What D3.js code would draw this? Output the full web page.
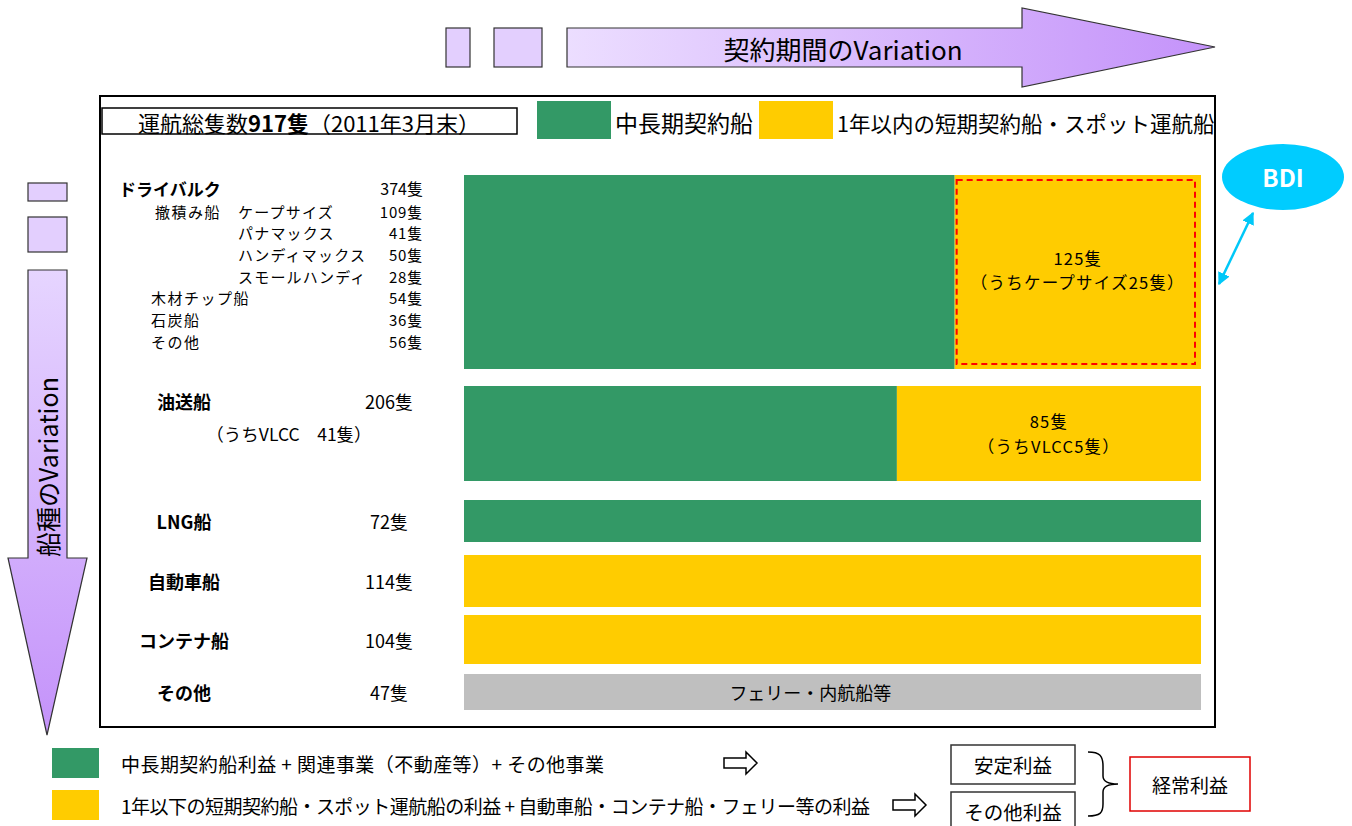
<!DOCTYPE html>
<html>
<head>
<meta charset="utf-8">
<script src="https://cdn.jsdelivr.net/npm/d3@7"></script>
<style>
  body { margin: 0; background: #fff; }
  svg text { font-family: "Noto Sans CJK JP", "Noto Sans", sans-serif; fill: #000; }
</style>
</head>
<body>
<svg width="1352" height="826"></svg>
<script>
// ---- data ----
var shipTypes   = ["ドライバルク", "油送船", "LNG船", "自動車船", "コンテナ船", "その他"];
var totalShips  = [374, 206, 72, 114, 104, 47];
var longTerm    = [249, 121, 72, 0, 0, 0];     // 中長期契約船
var shortTerm   = [125, 85, 0, 114, 104, 0];   // 1年以内の短期契約船・スポット運航船
var otherShips  = [0, 0, 0, 0, 0, 47];         // フェリー・内航船等
var shortNotes  = [["125隻", "（うちケープサイズ25隻）"], ["85隻", "（うちVLCC5隻）"], [], [], [], []];
var otherNote   = "フェリー・内航船等";

var dryBulkGroups = ["撤積み船", "", "", "", "木材チップ船", "石炭船", "その他"];
var dryBulkItems  = ["ケープサイズ", "パナマックス", "ハンディマックス", "スモールハンディ", "", "", ""];
var dryBulkCounts = [109, 41, 50, 28, 54, 36, 56];
var tankerNote    = "（うちVLCC　41隻）";

var fleetTitle   = ["運航総隻数", "917隻", "（2011年3月末）"];
var legendLabels = ["中長期契約船", "1年以内の短期契約船・スポット運航船"];
var profitLabels = ["中長期契約船利益 + 関連事業（不動産等）+ その他事業",
                    "1年以下の短期契約船・スポット運航船の利益 + 自動車船・コンテナ船・フェリー等の利益"];
var profitKinds  = ["安定利益", "その他利益"];
var profitTotal  = "経常利益";

// ---- layout ----
var svg = d3.select("svg");
var green = "#339966", yellow = "#FFCC00", grey = "#BFBFBF";
var rowTop    = [175, 386, 500, 555, 615, 674],
    rowHeight = [194, 95, 42, 52, 49, 36];

var x = d3.scaleLinear().domain([0, 1]).range([464, 1201]);

var defs = svg.append("defs");
var gh = defs.append("linearGradient").attr("id", "gradH");
gh.append("stop").attr("offset", "0%").attr("stop-color", "#ecdeff");
gh.append("stop").attr("offset", "100%").attr("stop-color", "#c492fa");
var gv = defs.append("linearGradient").attr("id", "gradV")
  .attr("x1", 0).attr("y1", 0).attr("x2", 0).attr("y2", 1);
gv.append("stop").attr("offset", "0%").attr("stop-color", "#e6d5ff");
gv.append("stop").attr("offset", "100%").attr("stop-color", "#c492fa");

// top arrow
svg.append("rect").attr("x", 446).attr("y", 28).attr("width", 24).attr("height", 39)
  .attr("fill", "#e3cffe").attr("stroke", "#333").attr("stroke-width", 1.2);
svg.append("rect").attr("x", 494).attr("y", 28).attr("width", 48).attr("height", 39)
  .attr("fill", "#e3cffe").attr("stroke", "#333").attr("stroke-width", 1.2);
svg.append("path")
  .attr("d", "M567,28 L1022,28 L1022,8 L1215,47 L1022,87 L1022,67 L567,67 Z")
  .attr("fill", "url(#gradH)").attr("stroke", "#333").attr("stroke-width", 1.2);
svg.append("text").attr("x", 843).attr("y", 48).attr("text-anchor", "middle")
  .attr("dominant-baseline", "central").style("font-size", "26px")
  .text("契約期間のVariation");

// left arrow
svg.append("rect").attr("x", 28).attr("y", 183).attr("width", 39).attr("height", 18)
  .attr("fill", "#e3cffe").attr("stroke", "#333").attr("stroke-width", 1.2);
svg.append("rect").attr("x", 28).attr("y", 217).attr("width", 39).attr("height", 35)
  .attr("fill", "#e3cffe").attr("stroke", "#333").attr("stroke-width", 1.2);
svg.append("path")
  .attr("d", "M28,270 L67,270 L67,558 L87,558 L47,735 L8,558 L28,558 Z")
  .attr("fill", "url(#gradV)").attr("stroke", "#333").attr("stroke-width", 1.2);
svg.append("text").attr("transform", "translate(47,467) rotate(-90)")
  .attr("text-anchor", "middle").attr("dominant-baseline", "central")
  .style("font-size", "25px").text("船種のVariation");

// main frame
svg.append("rect").attr("x", 100).attr("y", 96).attr("width", 1115).attr("height", 631)
  .attr("fill", "none").attr("stroke", "#000").attr("stroke-width", 2);

// title box
svg.append("rect").attr("x", 102).attr("y", 108).attr("width", 415).attr("height", 26)
  .attr("fill", "#fff").attr("stroke", "#000").attr("stroke-width", 1.5);
var tt = svg.append("text").attr("x", 309).attr("y", 122).attr("text-anchor", "middle")
  .attr("dominant-baseline", "central").style("font-size", "22px");
tt.append("tspan").text(fleetTitle[0]);
tt.append("tspan").style("font-weight", "bold").text(fleetTitle[1]);
tt.append("tspan").text(fleetTitle[2]);

// legend
var legX = [537, 759], legSize = ["23px", "21.5px"];
[green, yellow].forEach(function(c, i) {
  svg.append("rect").attr("x", legX[i]).attr("y", 101).attr("width", 74).attr("height", 38).attr("fill", c);
  svg.append("text").attr("x", legX[i] + 78).attr("y", 122).attr("dominant-baseline", "central")
    .style("font-size", legSize[i]).text(legendLabels[i]);
});

// bars
var table = shipTypes.map(function(s, i) {
  return { type: s, long: longTerm[i], short: shortTerm[i], other: otherShips[i], idx: i };
});
var stack = d3.stack().keys(["long", "short", "other"]).offset(d3.stackOffsetExpand);
var series = stack(table);
var colors = { long: green, short: yellow, other: grey };

var layers = svg.append("g").selectAll("g").data(series).join("g")
  .attr("fill", function(d) { return colors[d.key]; });
layers.selectAll("rect").data(function(d) { return d; }).join("rect")
  .attr("x", function(d) { return x(d[0]); })
  .attr("y", function(d) { return rowTop[d.data.idx]; })
  .attr("width", function(d) { return x(d[1]) - x(d[0]); })
  .attr("height", function(d) { return rowHeight[d.data.idx]; });

// notes inside short-term segments
var shortSeries = series[1];
shortSeries.forEach(function(d) {
  var i = d.data.idx, lines = shortNotes[i];
  if (!lines.length) return;
  var cx = (x(d[0]) + x(d[1])) / 2, cy = rowTop[i] + rowHeight[i] / 2;
  if (i === 0) {
    svg.append("rect").attr("x", x(d[0]) + 2).attr("y", rowTop[i] + 5)
      .attr("width", x(d[1]) - x(d[0]) - 8).attr("height", rowHeight[i] - 10)
      .attr("fill", "none").attr("stroke", "#ff0000").attr("stroke-width", 2)
      .attr("stroke-dasharray", "6,4");
    cy = rowTop[i] + 95;
  }
  lines.forEach(function(t, k) {
    svg.append("text").attr("x", cx).attr("y", cy + (k - 0.5) * 24.5)
      .attr("text-anchor", "middle").attr("dominant-baseline", "central")
      .style("font-size", "16.5px").style("letter-spacing", "1.2px").text(t);
  });
});
var otherSeries = series[2];
otherSeries.forEach(function(d) {
  var i = d.data.idx;
  if (!otherShips[i]) return;
  svg.append("text").attr("x", x(d[0]) + 0.47 * (x(d[1]) - x(d[0]))).attr("y", rowTop[i] + rowHeight[i] / 2)
    .attr("text-anchor", "middle").attr("dominant-baseline", "central")
    .style("font-size", "18px").text(otherNote);
});

// left labels
shipTypes.forEach(function(s, i) {
  var cy = i === 0 ? rowTop[i] + 13 : i === 1 ? rowTop[i] + 15 : rowTop[i] + rowHeight[i] / 2;
  var lx = i === 0 ? 119 : 184, anchor = i === 0 ? "start" : "middle";
  svg.append("text").attr("x", lx).attr("y", cy).attr("text-anchor", anchor)
    .attr("dominant-baseline", "central").style("font-size", i === 0 ? "17px" : "18px")
    .style("font-weight", "bold").text(s);
  svg.append("text").attr("x", i === 0 ? 423 : 389).attr("y", cy)
    .attr("text-anchor", i === 0 ? "end" : "middle").attr("dominant-baseline", "central")
    .style("font-size", i === 0 ? "16px" : "18px").text(totalShips[i] + "隻");
});
svg.append("text").attr("x", 289).attr("y", 433).attr("text-anchor", "middle")
  .attr("dominant-baseline", "central").style("font-size", "17.5px").text(tankerNote);

// dry bulk breakdown
var subY = d3.scaleLinear().domain([0, dryBulkCounts.length - 1]).range([211, 341]);
dryBulkCounts.forEach(function(c, k) {
  var y = subY(k);
  if (dryBulkGroups[k]) {
    svg.append("text").attr("x", k === 0 ? 155 : 151).attr("y", y).attr("dominant-baseline", "central")
      .style("font-size", "15px").style("letter-spacing", "1.5px").text(dryBulkGroups[k]);
  }
  if (dryBulkItems[k]) {
    svg.append("text").attr("x", 238).attr("y", y).attr("dominant-baseline", "central")
      .style("font-size", "15px").style("letter-spacing", "1.2px").text(dryBulkItems[k]);
  }
  svg.append("text").attr("x", 423).attr("y", y).attr("text-anchor", "end")
    .attr("dominant-baseline", "central").style("font-size", "15px").style("letter-spacing", "0.8px")
    .text(c + "隻");
});

// BDI
svg.append("ellipse").attr("cx", 1283).attr("cy", 177).attr("rx", 61).attr("ry", 33).attr("fill", "#00CCFF");
svg.append("text").attr("x", 1283).attr("y", 176).attr("text-anchor", "middle")
  .attr("dominant-baseline", "central").style("font-size", "24px").style("font-weight", "bold")
  .style("fill", "#fff").text("BDI");
defs.append("marker").attr("id", "ah").attr("viewBox", "0 0 10 10").attr("refX", 9).attr("refY", 5)
  .attr("markerWidth", 5).attr("markerHeight", 5).attr("orient", "auto-start-reverse")
  .append("path").attr("d", "M0,0 L10,5 L0,10 Z").attr("fill", "#00C8F8");
svg.append("line").attr("x1", 1219).attr("y1", 284).attr("x2", 1253).attr("y2", 213)
  .attr("stroke", "#00C8F8").attr("stroke-width", 2.5)
  .attr("marker-start", "url(#ah)").attr("marker-end", "url(#ah)");

// bottom legend
var botY = [763, 805], arrowX = [724, 893], botLen = [483, 749];
[green, yellow].forEach(function(c, i) {
  svg.append("rect").attr("x", 52).attr("y", botY[i] - 15).attr("width", 47).attr("height", 30).attr("fill", c);
  svg.append("text").attr("x", 121).attr("y", botY[i]).attr("dominant-baseline", "central")
    .attr("textLength", botLen[i]).style("font-size", "19px").text(profitLabels[i]);
  var ax = arrowX[i], ay = botY[i];
  svg.append("path")
    .attr("d", "M" + ax + "," + (ay - 5) + " h22 v-6 l11,11 l-11,11 v-6 h-22 Z")
    .attr("fill", "#fff").attr("stroke", "#000").attr("stroke-width", 1.5);
});
profitKinds.forEach(function(t, i) {
  var by = i === 0 ? 745 : 792;
  svg.append("rect").attr("x", 951).attr("y", by).attr("width", 124).attr("height", 39)
    .attr("fill", "#fff").attr("stroke", "#333").attr("stroke-width", 1.5);
  svg.append("text").attr("x", 1013).attr("y", by + 19).attr("text-anchor", "middle")
    .attr("dominant-baseline", "central").style("font-size", "19.5px").text(t);
});
svg.append("path")
  .attr("d", "M1088,752 C1100,752 1103,756 1103,766 L1103,776 C1103,782 1108,784 1118,784 C1108,784 1103,786 1103,792 L1103,804 C1103,813 1100,816 1088,816")
  .attr("fill", "none").attr("stroke", "#000").attr("stroke-width", 1.5);
svg.append("rect").attr("x", 1130).attr("y", 757).attr("width", 120).attr("height", 54)
  .attr("fill", "#fff").attr("stroke", "#e00000").attr("stroke-width", 1.5);
svg.append("text").attr("x", 1190).attr("y", 784).attr("text-anchor", "middle")
  .attr("dominant-baseline", "central").style("font-size", "19px").text(profitTotal);
</script>
</body>
</html>
